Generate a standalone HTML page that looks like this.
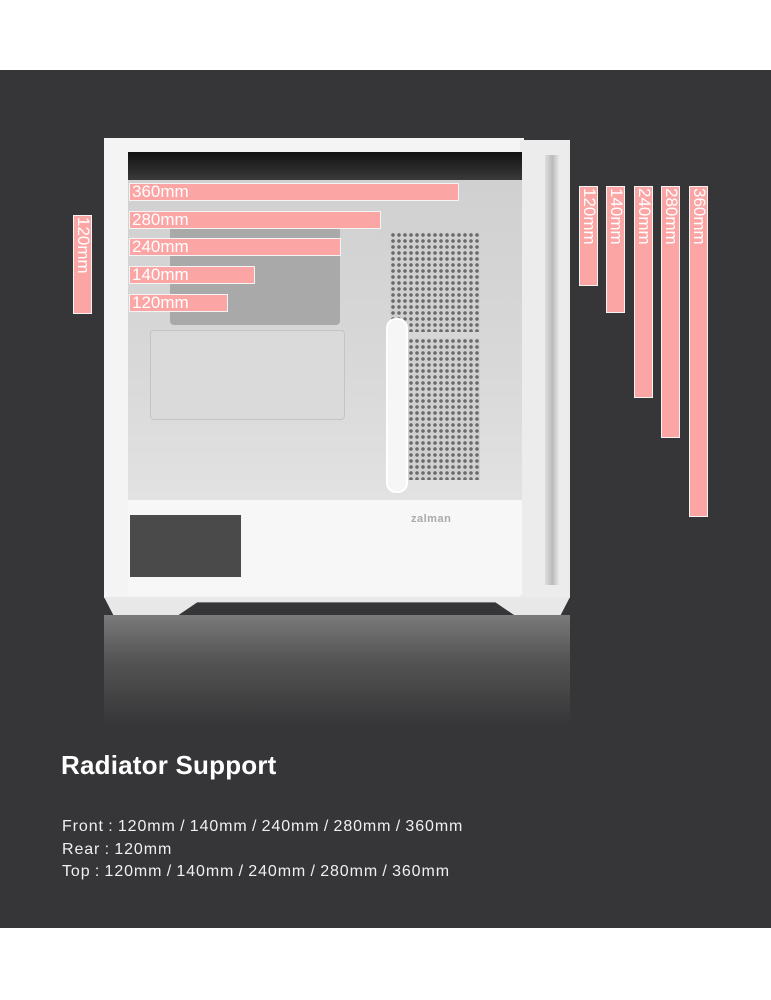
<!DOCTYPE html>
<html><head><meta charset="utf-8"><style>
*{margin:0;padding:0;box-sizing:border-box}
body{width:771px;height:1000px;background:#fff;position:relative;overflow:hidden;font-family:"Liberation Sans","Noto Sans CJK KR",sans-serif}
.a{position:absolute}
.bar{position:absolute;background:#fba5a5;border:1.5px solid #f4f4f4;color:#fff;font-size:17px;line-height:15px;padding-left:2px;overflow:hidden;white-space:nowrap}
.v{writing-mode:vertical-rl;padding-left:0;padding-top:1px;line-height:16px}
.mesh{position:absolute;background-color:#d0d0d0;background-image:radial-gradient(circle,#6a6a6a 1.6px,transparent 2px);background-size:6px 6px}
</style></head><body>
<div class="a" style="left:0;top:70px;width:771px;height:858px;background:#363537"></div>
<!-- reflection -->
<div class="a" style="left:104px;top:615px;width:466px;height:110px;background:linear-gradient(#7a7a7a,#555 40%,#363537)"></div>
<!-- case frame -->
<div class="a" style="left:104px;top:138px;width:420px;height:460px;background:#f4f4f4"></div>
<div class="a" style="left:520px;top:140px;width:50px;height:458px;background:#ececec"></div>
<div class="a" style="left:545px;top:155px;width:15px;height:430px;background:linear-gradient(90deg,#ddd,#bbb,#eee)"></div>
<div class="a" style="left:104px;top:597px;width:466px;height:18px;background:#e8e8e8;clip-path:polygon(0 0,100% 0,98% 100%,88% 100%,84% 30%,20% 30%,16% 100%,2% 100%)"></div>
<!-- glass interior -->
<div class="a" style="left:128px;top:152px;width:394px;height:348px;background:linear-gradient(#cfcfcf,#d8d8d8 60%,#e2e2e2)"></div>
<div class="a" style="left:128px;top:152px;width:394px;height:28px;background:linear-gradient(#111,#3a3a3a)"></div>
<div class="a" style="left:170px;top:217px;width:170px;height:108px;background:#a9a9a9;border-radius:4px"></div>
<div class="a" style="left:150px;top:330px;width:195px;height:90px;background:#dadada;border:1px solid #c4c4c4;border-radius:4px"></div>
<div class="mesh" style="left:390px;top:232px;width:90px;height:100px"></div>
<div class="mesh" style="left:408px;top:338px;width:72px;height:142px"></div>
<div class="a" style="left:386px;top:318px;width:22px;height:175px;background:#f6f6f6;border:2px solid #fff;border-radius:10px"></div>
<!-- shroud -->
<div class="a" style="left:128px;top:500px;width:394px;height:95px;background:#f7f7f7"></div>
<div class="a" style="left:130px;top:515px;width:111px;height:62px;background:#4a4a4a"></div>
<div class="a" style="left:411px;top:513px;font-size:11px;font-weight:bold;color:#aaa;letter-spacing:.5px">zalman</div>
<!-- bars -->
<div class="bar" style="left:129px;top:183px;width:330px;height:18px">360mm</div>
<div class="bar" style="left:129px;top:211px;width:252px;height:18px">280mm</div>
<div class="bar" style="left:129px;top:238px;width:212px;height:18px">240mm</div>
<div class="bar" style="left:129px;top:266px;width:126px;height:18px">140mm</div>
<div class="bar" style="left:129px;top:294px;width:99px;height:18px">120mm</div>
<div class="bar v" style="left:73px;top:215px;width:19px;height:99px">120mm</div>
<div class="bar v" style="left:579px;top:186px;width:19px;height:100px">120mm</div>
<div class="bar v" style="left:606px;top:186px;width:19px;height:127px">140mm</div>
<div class="bar v" style="left:634px;top:186px;width:19px;height:212px">240mm</div>
<div class="bar v" style="left:661px;top:186px;width:19px;height:252px">280mm</div>
<div class="bar v" style="left:689px;top:186px;width:19px;height:331px">360mm</div>
<!-- text -->
<div class="a" style="left:61px;top:750px;font-size:26px;font-weight:bold;color:#fff;letter-spacing:.2px">Radiator Support</div>
<div class="a" style="left:62px;top:816px;font-size:16px;line-height:22.5px;color:#f0f0f0;letter-spacing:.9px;word-spacing:-1px">Front : 120mm / 140mm / 240mm / 280mm / 360mm<br>Rear : 120mm<br>Top : 120mm / 140mm / 240mm / 280mm / 360mm</div>
</body></html>
